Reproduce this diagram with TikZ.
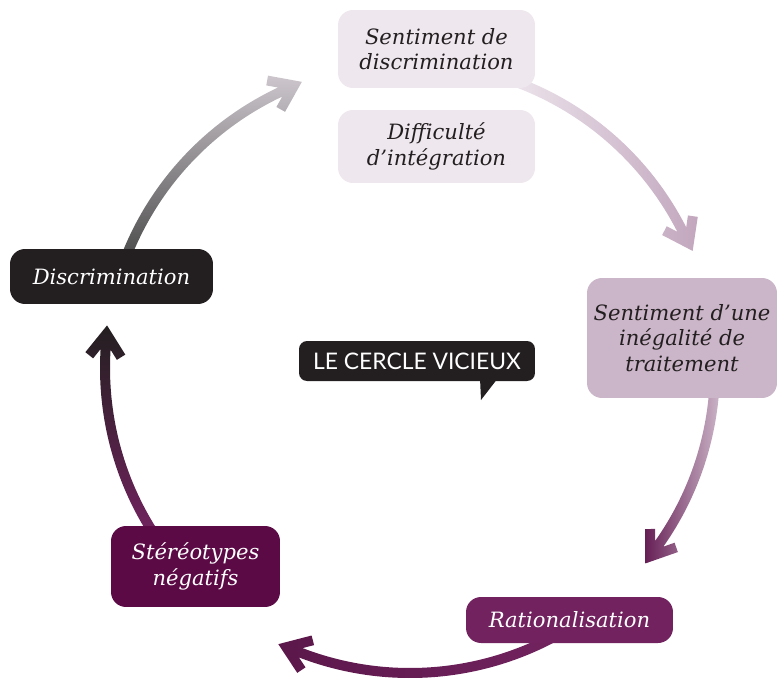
\documentclass[tikz,border=0pt]{standalone}
\usepackage{fontspec}
\setmainfont{DejaVu Serif}
\newfontfamily\bubblefont{Lato}
\usepackage{tikz}
\usetikzlibrary{calc}

\definecolor{inkblack}{HTML}{231F20}
\definecolor{palemauve}{HTML}{EEE7EE}
\definecolor{softmauve}{HTML}{CBB5C8}
\definecolor{plum}{HTML}{72235F}
\definecolor{darkplum}{HTML}{5B0A45}

% curved arrow on the circle round (O): start angle, end angle, shading
\newcommand{\cyclearrow}[3]{%
\shade[#3] ($(O)+(#1:310)$) arc[start angle=#1,end angle=#2,radius=310]
  -- ($(O)+(#2:316.9)+(#2-90:-9.75)$) -- ($(O)+(#2:325)+(#2-90:-4)$)
  -- ($(O)+(#2:305)+(#2-90:24)$)
  -- ($(O)+(#2:285)+(#2-90:-4)$) -- ($(O)+(#2:293.1)+(#2-90:-9.75)$)
  -- ($(O)+(#2:300)$) arc[start angle=#2,end angle=#1,radius=300] -- cycle;}

\tikzset{
  cyclebox/.style={rounded corners=0.3cm,align=center,inner sep=0pt,
    font=\itshape\fontsize{12}{14.4}\selectfont},
  palebox/.style={cyclebox,fill=palemauve,text=inkblack},
  darkbox/.style={cyclebox,text=white}
}

\begin{document}
\begin{tikzpicture}[line cap=round,line join=round,x=0.02cm,y=0.02cm]
\useasboundingbox (0,0) rectangle (777,-679);
\coordinate (O) at (410,-368);
% arrows
\cyclearrow{160}{115.2}{top color=black!14!palemauve,bottom color=black!72}
\cyclearrow{72}{27}{left color=palemauve,right color=softmauve!90!plum}
\cyclearrow{0}{-35.2}{left color=plum!90!black,right color=softmauve}
\cyclearrow{-60}{-111}{left color=plum!70!darkplum!85!black,right color=plum}
\cyclearrow{213}{176.5}{top color=inkblack,middle color=plum!80!inkblack,bottom color=plum}
% boxes
\node[palebox,minimum width=3.94cm,minimum height=1.56cm] (sdisc) at (436.5,-49) {Sentiment de\\discrimination};
\node[palebox,minimum width=3.94cm,minimum height=1.46cm] (diff) at (436.5,-146.5) {Difficulté\\d’intégration};
\node[cyclebox,fill=softmauve,text=inkblack,minimum width=3.8cm,minimum height=2.4cm] (ineg) at (682,-338) {Sentiment d’une\\inégalité de\\traitement};
\node[darkbox,fill=plum,minimum width=4.14cm,minimum height=0.92cm] (ratio) at (569.5,-620) {Rationalisation};
\node[darkbox,fill=darkplum,minimum width=3.38cm,minimum height=1.62cm] (stereo) at (195.5,-566.5) {Stéréotypes\\négatifs};
\node[darkbox,fill=inkblack,minimum width=4.06cm,minimum height=1.1cm] (discr) at (111.5,-276.5) {Discrimination};
% speech bubble
\fill[inkblack] (480,-378) -- (481,-400) -- (498,-378) -- cycle;
\node[fill=inkblack,text=white,rounded corners=0.16cm,minimum width=4.72cm,minimum height=0.8cm,
  font=\bubblefont\fontsize{13}{15}\selectfont] (cercle) at (417,-361) {LE CERCLE VICIEUX};
\end{tikzpicture}
\end{document}
